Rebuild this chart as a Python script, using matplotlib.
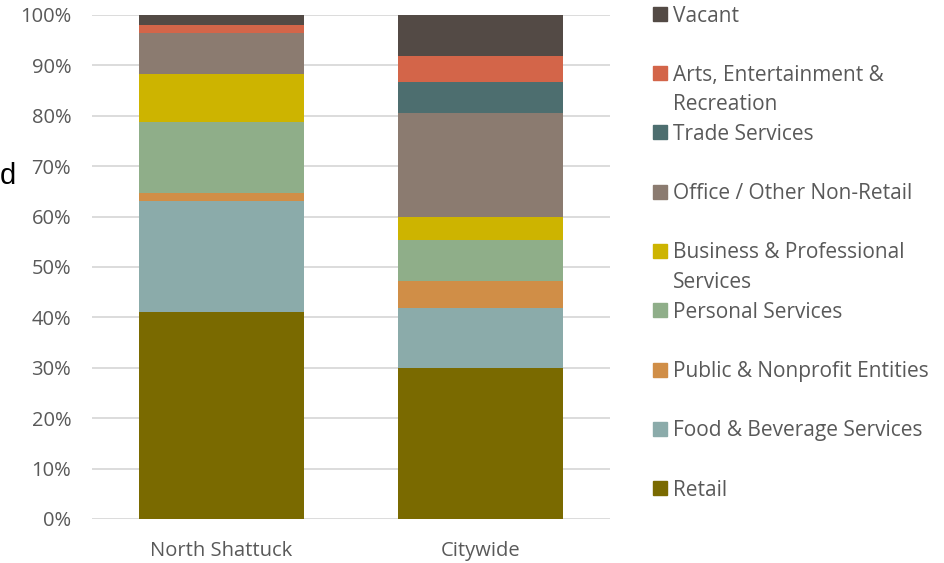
import matplotlib
matplotlib.use("Agg")
import matplotlib.pyplot as plt
from matplotlib.patches import Rectangle
import numpy as np

# data (percent of storefronts), bottom to top
areas = ["North Shattuck", "Citywide"]
categories = [
    "Retail",
    "Food & Beverage Services",
    "Public & Nonprofit Entities",
    "Personal Services",
    "Business & Professional\nServices",
    "Office / Other Non-Retail",
    "Trade Services",
    "Arts, Entertainment &\nRecreation",
    "Vacant",
]
north_shattuck = [41.1, 22.0, 1.6, 14.1, 9.4, 8.3, 0.0, 1.6, 1.9]
citywide = [30.0, 11.9, 5.3, 8.2, 4.5, 20.7, 6.1, 5.2, 8.1]
colors = ["#7A6A00", "#8BABAA", "#D08E47", "#8FAE89", "#CDB400",
          "#8B7B70", "#4D6E6F", "#D36549", "#534A45"]

grey = "#595959"
plt.rcParams["font.family"] = ["Open Sans", "DejaVu Sans"]

W, H = 944, 563
fig = plt.figure(figsize=(9.44, 5.63), dpi=100)
ax = fig.add_axes([92 / W, 1 - 519 / H, 518 / W, 504 / H])

x = np.arange(len(areas))
values = np.array([north_shattuck, citywide]).T
bottom = np.zeros(len(areas))
for vals, col in zip(values, colors):
    ax.bar(x, vals, 0.64, bottom=bottom, color=col, zorder=2)
    bottom += vals

ax.set_xlim(-0.5, 1.5)
ax.set_ylim(0, 100)
ax.set_yticks(np.arange(0, 101, 10))
ax.set_yticklabels([f"{v}%" for v in range(0, 101, 10)])
ax.set_xticks(x)
ax.set_xticklabels(areas)
ax.grid(axis="y", color="#D9D9D9", lw=1.3, zorder=0)
for s in ax.spines.values():
    s.set_visible(False)
ax.tick_params(length=0, colors=grey, labelsize=14.5)
ax.tick_params(axis="y", pad=15)
ax.tick_params(axis="x", pad=16)

# legend, top entry first; marker centred on the first text line
step = 59.25
line_h = 29
for i, (lab, col) in enumerate(zip(categories[::-1], colors[::-1])):
    yc = 14 + i * step
    fig.add_artist(Rectangle((653 / W, 1 - (yc + 7) / H), 14 / W, 14 / H,
                             transform=fig.transFigure, color=col))
    for j, line in enumerate(lab.split("\n")):
        fig.text(673 / W, 1 - (yc + 7.5 + j * line_h) / H, line,
                 ha="left", va="baseline", color=grey, fontsize=15)

# clipped label from the left edge
fig.text(0.0, 1 - 176 / H, "d", ha="left", va="center", fontsize=21,
         color="black", family=["Liberation Sans", "DejaVu Sans"])

fig.savefig("out.png", dpi=100)
